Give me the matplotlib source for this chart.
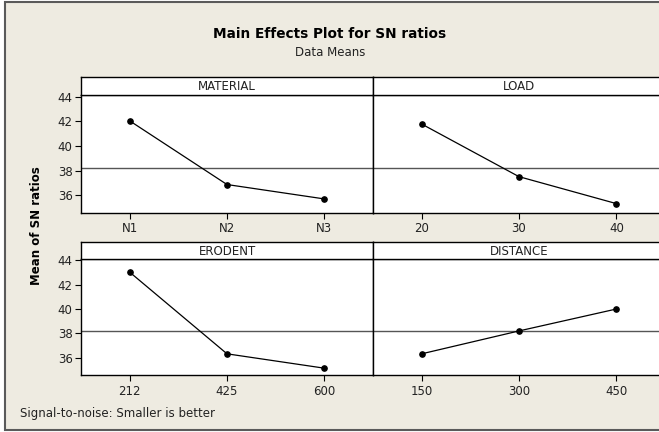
import numpy as np
import matplotlib
matplotlib.use("Agg")
import matplotlib.pyplot as plt
from matplotlib.patches import Rectangle

# factor levels and mean SN ratios
factors = ['MATERIAL', 'LOAD', 'ERODENT', 'DISTANCE']
material_levels = ['N1', 'N2', 'N3']
material_sn = [42.05, 36.87, 35.70]
load_levels = ['20', '30', '40']
load_sn = [41.79, 37.51, 35.32]
erodent_levels = ['212', '425', '600']
erodent_sn = [43.03, 36.32, 35.14]
distance_levels = ['150', '300', '450']
distance_sn = [36.32, 38.20, 40.00]
y_ticks = [36, 38, 40, 42, 44]

levels = [material_levels, load_levels, erodent_levels, distance_levels]
values = [material_sn, load_sn, erodent_sn, distance_sn]
grand_mean = np.mean(material_sn + load_sn + erodent_sn + distance_sn)

W, H = 659, 432
bg = '#eeebe1'

fig = plt.figure(figsize=(W / 100, H / 100), dpi=100, facecolor='white')
fig.patches.append(Rectangle((5 / W, 2 / H), 1.0, (428 / H), transform=fig.transFigure,
                             facecolor=bg, edgecolor='#5a5a5a', lw=1.5, zorder=-10))

def px(x0, top, x1, bottom):
    # pixel box -> figure fraction
    return [x0 / W, 1 - bottom / H, (x1 - x0) / W, (bottom - top) / H]

cols = [(81, 373), (373, 665)]
rows = [(77, 95, 212.7), (242, 258.5, 375)]

for i, name in enumerate(factors):
    r, c = divmod(i, 2)
    x0, x1 = cols[c]
    htop, hbot, dbot = rows[r]

    ax = fig.add_axes(px(x0, hbot, x1, dbot))
    ax.set_facecolor('white')
    x = np.arange(1, 4)
    ax.axhline(grand_mean, color='#555555', lw=1.0, zorder=1)
    ax.plot(x, values[i], color='black', lw=0.9, marker='o', markersize=3.8, zorder=3)
    ax.set_xlim(0.5, 3.5)
    ax.set_ylim(34.58, 44.15)
    ax.set_xticks(x)
    ax.set_xticklabels(levels[i], fontsize=8.5, color='#222222')
    ax.tick_params(axis='x', length=4, width=0.8, pad=3)
    if c == 0:
        ax.set_yticks(y_ticks)
        ax.set_yticklabels([str(t) for t in y_ticks], fontsize=8.5, color='#222222')
        ax.tick_params(axis='y', length=4, width=0.8, pad=2)
    else:
        ax.set_yticks([])
    for s in ax.spines.values():
        s.set_linewidth(1.0)
    ax.spines['top'].set_color('#404040')

    hax = fig.add_axes(px(x0, htop, x1, hbot))
    hax.set_facecolor('white')
    hax.set_xticks([])
    hax.set_yticks([])
    for s in hax.spines.values():
        s.set_linewidth(1.0)
    hax.text(0.5, 0.45, name, ha='center', va='center', fontsize=8.5,
             color='#222222', transform=hax.transAxes)

fig.text(330 / W, 1 - 34 / H, 'Main Effects Plot for SN ratios', ha='center', va='center',
         fontsize=9.8, fontweight='bold')
fig.text(330 / W, 1 - 52 / H, 'Data Means', ha='center', va='center', fontsize=8.5,
         color='#222222')
fig.text(37 / W, 1 - 226 / H, 'Mean of SN ratios', rotation=90, ha='center', va='center',
         fontsize=8.5, fontweight='bold')
fig.text(20 / W, 1 - 414 / H, 'Signal-to-noise: Smaller is better', ha='left', va='center',
         fontsize=8.5, color='#222222')

fig.savefig('out.png', dpi=100, facecolor=fig.get_facecolor())
